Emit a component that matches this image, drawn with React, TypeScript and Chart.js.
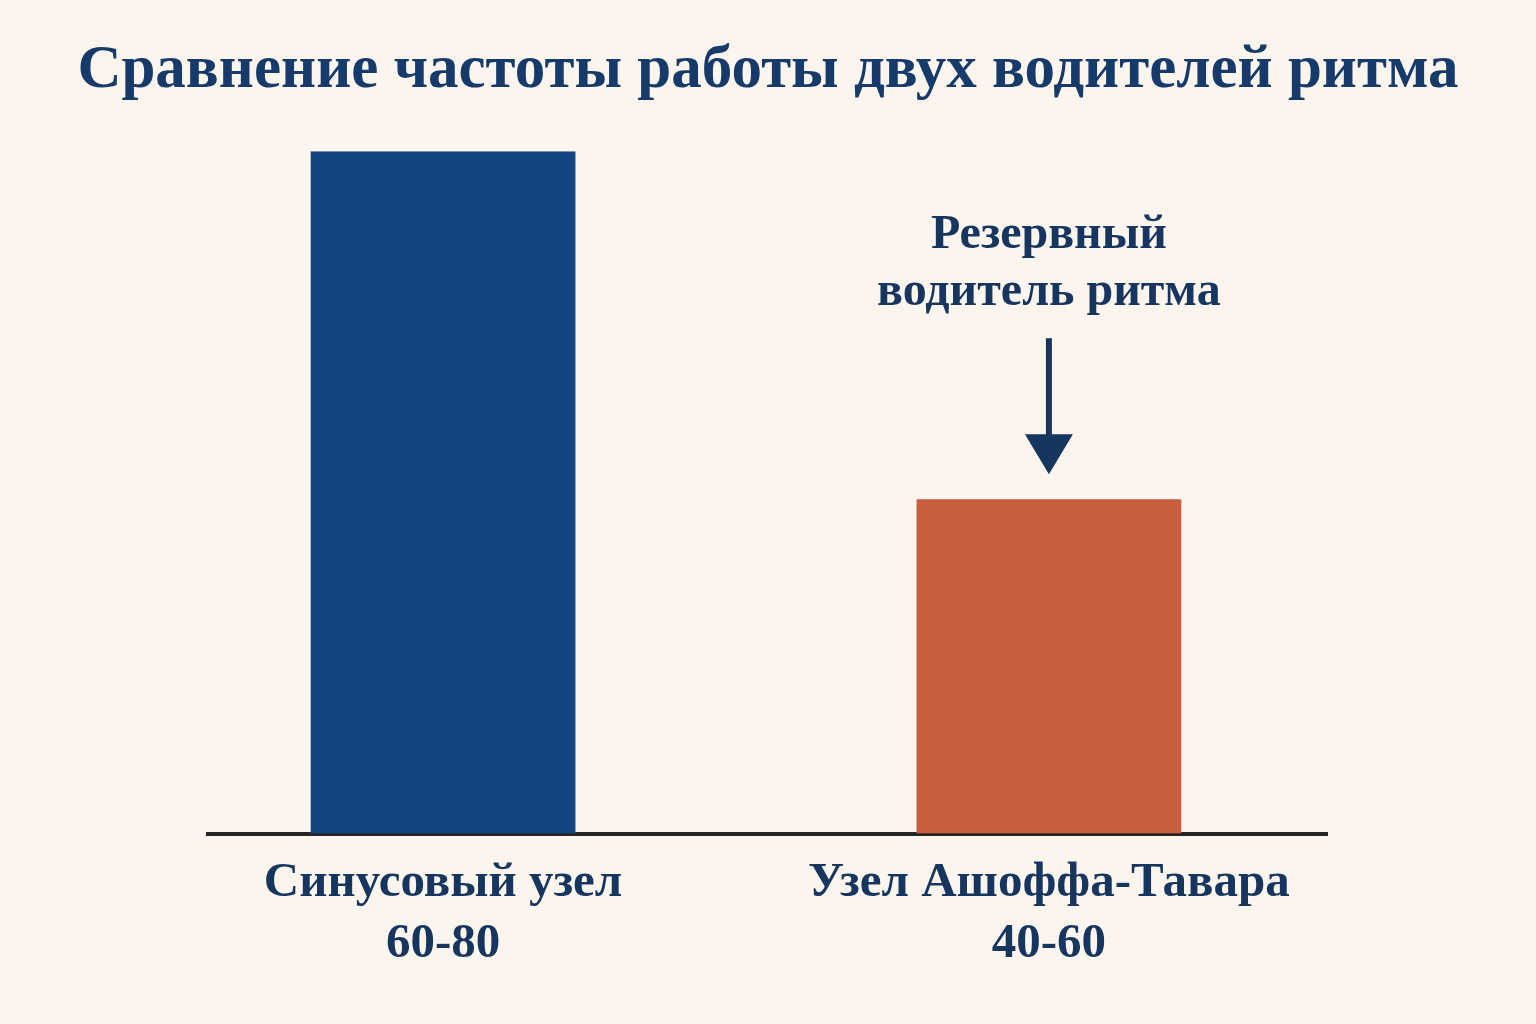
import React, { useEffect, useRef } from 'react';
import Chart from 'chart.js/auto';

// Data
const categories = ['Синусовый узел', 'Узел Ашоффа-Тавара'];
const rateRanges = ['60-80', '40-60'];
const rateValues = [80, 39.2];
const barColors = ['#134580', '#C95E3F'];
const calloutLines = ['Резервный', 'водитель ритма'];
const calloutIndex = 1;

const FONT = '"Liberation Serif", "Times New Roman", "DejaVu Serif", serif';
const NAVY = '#17365f';

// draws the "backup pacemaker" note with an arrow pointing at the bar
const calloutPlugin = {
  id: 'callout',
  afterDatasetsDraw(chart) {
    const bar = chart.getDatasetMeta(0).data[calloutIndex];
    if (!bar) return;
    const { ctx } = chart;
    const x = bar.x;
    const top = bar.y;
    ctx.save();
    ctx.fillStyle = NAVY;
    ctx.strokeStyle = NAVY;
    ctx.font = `bold 48px ${FONT}`;
    ctx.textAlign = 'center';
    ctx.textBaseline = 'middle';
    ctx.fillText(calloutLines[0], x, top - 264);
    ctx.fillText(calloutLines[1], x, top - 207);

    const tip = top - 25;
    const headH = 40;
    ctx.lineWidth = 6;
    ctx.beginPath();
    ctx.moveTo(x, top - 161);
    ctx.lineTo(x, tip - headH + 4);
    ctx.stroke();
    ctx.beginPath();
    ctx.moveTo(x - 24, tip - headH);
    ctx.lineTo(x + 24, tip - headH);
    ctx.lineTo(x, tip);
    ctx.closePath();
    ctx.fill();
    ctx.restore();
  },
};

// invisible side axes that only reserve the margins around the plot
const sideAxis = (position, width) => ({
  position,
  display: true,
  min: 0,
  max: 80,
  grid: { display: false },
  border: { display: false },
  ticks: { display: false },
  afterFit: (axis) => {
    axis.width = width;
  },
});

const PacemakerChart = () => {
  const canvasRef = useRef(null);
  const chartRef = useRef(null);

  useEffect(() => {
    if (!canvasRef.current) return;
    if (chartRef.current) chartRef.current.destroy();

    chartRef.current = new Chart(canvasRef.current, {
      type: 'bar',
      data: {
        datasets: [
          {
            data: rateValues.map((v, i) => ({ x: i, y: v })),
            backgroundColor: barColors,
            borderWidth: 0,
            categoryPercentage: 1,
            barPercentage: 0.437,
          },
        ],
      },
      options: {
        animation: false,
        responsive: true,
        maintainAspectRatio: false,
        layout: { padding: { left: 0, right: 0, top: 0, bottom: 38 } },
        scales: {
          x: {
            type: 'linear',
            offset: false,
            min: -0.388,
            max: 1.459,
            z: 1,
            grid: { display: false },
            border: { display: true, color: '#262626', width: 4 },
            afterBuildTicks: (axis) => {
              axis.ticks = categories.map((_, i) => ({ value: i }));
            },
            ticks: {
              autoSkip: false,
              maxRotation: 0,
              padding: 11,
              color: NAVY,
              font: { family: FONT, size: 49, weight: 'bold', lineHeight: 1.25 },
              callback: (value) => [categories[value], rateRanges[value]],
            },
          },
          y: sideAxis('left', 208),
          yRight: sideAxis('right', 209),
        },
        plugins: {
          legend: { display: false },
          tooltip: { enabled: false },
          title: {
            display: true,
            text: 'Сравнение частоты работы двух водителей ритма',
            color: '#163a6a',
            font: { family: FONT, size: 61, weight: 'bold', lineHeight: 1.2 },
            padding: { top: 35, bottom: 43 },
          },
        },
      },
      plugins: [calloutPlugin],
    });

    return () => {
      if (chartRef.current) {
        chartRef.current.destroy();
        chartRef.current = null;
      }
    };
  }, []);

  return <canvas ref={canvasRef} />;
};

export default function App() {
  useEffect(() => {
    document.body.style.margin = '0';
    document.body.style.background = '#FBF5ED';
  }, []);

  return (
    <div style={{ width: 1536, height: 1024, background: '#FBF5ED', position: 'relative' }}>
      <PacemakerChart />
    </div>
  );
}
